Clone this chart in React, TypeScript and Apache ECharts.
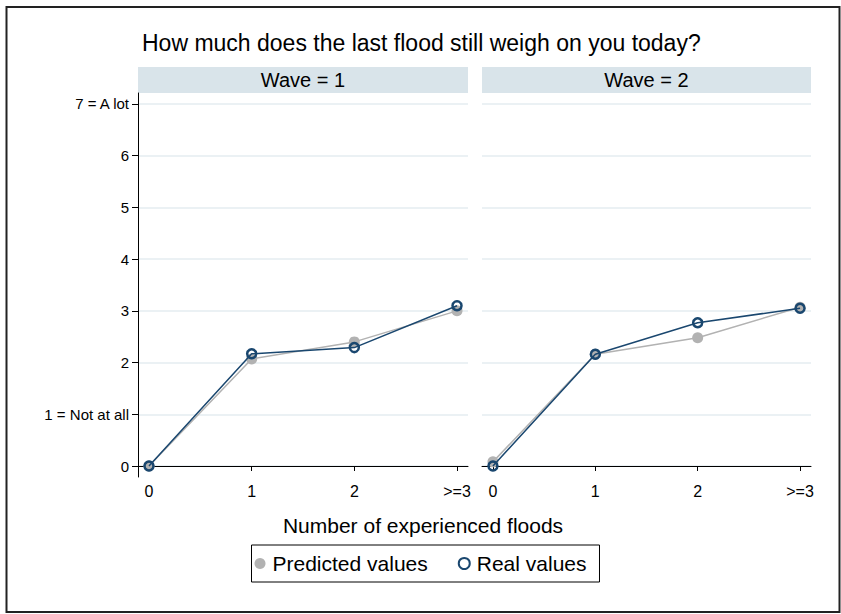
import React, { useEffect, useRef } from "react";
import * as echarts from "echarts";

const categories = ["0", "1", "2", ">=3"];
const xValues = [0, 1, 2, 3];
const wave1Predicted = [0.0, 2.07, 2.4, 3.0];
const wave1Real = [0.0, 2.17, 2.29, 3.1];
const wave2Predicted = [0.08, 2.16, 2.48, 3.07];
const wave2Real = [0.0, 2.16, 2.77, 3.05];
const yTicks = [0, 1, 2, 3, 4, 5, 6, 7];
const yTickLabels: Record<number, string> = { 0: "0", 1: "1 = Not at all", 2: "2", 3: "3", 4: "4", 5: "5", 6: "6", 7: "7 = A lot" };
const panelTitles = ["Wave = 1", "Wave = 2"];

const FONT = "'Liberation Sans', Arial, Helvetica, sans-serif";
const NAVY = "#1a476f";
const GRAY = "#b2b2b2";
const GRID_LINE = "#e4edf0";

const pairs = (ys: number[]) => xValues.map((x, i) => [x, ys[i]]);

export default function App() {
  const ref = useRef<HTMLDivElement>(null);
  useEffect(() => {
    if (!ref.current) return;
    const chart = echarts.init(ref.current, null, { renderer: "svg" });
    const grids = [
      { left: 138, top: 93, width: 330, height: 384 },
      { left: 482, top: 93, width: 329, height: 384 },
    ];
    const xAxis = [0, 1].map((i) => ({
      type: "value",
      gridIndex: i,
      min: -0.107,
      max: 3.107,
      axisLine: { show: true, lineStyle: { color: "#000", width: 1 } },
      axisTick: { show: true, length: 5, customValues: xValues, lineStyle: { color: "#000" } },
      axisLabel: {
        show: true,
        customValues: xValues,
        formatter: (v: number) => categories[Math.round(v)],
        color: "#000",
        fontSize: 16,
        fontFamily: FONT,
        margin: 6,
      },
      splitLine: { show: false },
    }));
    const yAxis = [0, 1].map((i) => ({
      type: "value",
      gridIndex: i,
      min: -0.2127,
      max: 7.2127,
      axisLine: { show: i === 0, onZero: false, lineStyle: { color: "#000", width: 1 } },
      axisTick: { show: i === 0, length: 6, customValues: yTicks, lineStyle: { color: "#000" } },
      axisLabel: {
        show: i === 0,
        customValues: yTicks,
        formatter: (v: number) => yTickLabels[Math.round(v)] ?? "",
        color: "#000",
        fontSize: 15,
        fontFamily: FONT,
        margin: 9,
      },
      splitLine: { show: true, lineStyle: { color: GRID_LINE, width: 1.5 } },
    }));
    const mkPred = (i: number, ys: number[]) => ({
      name: "Predicted values",
      type: "line",
      xAxisIndex: i,
      yAxisIndex: i,
      data: pairs(ys),
      symbol: "circle",
      symbolSize: 11,
      itemStyle: { color: GRAY },
      lineStyle: { color: GRAY, width: 1.5 },
      z: 2,
    });
    const mkReal = (i: number, ys: number[]) => ({
      name: "Real values",
      type: "line",
      xAxisIndex: i,
      yAxisIndex: i,
      data: pairs(ys),
      symbol: "circle",
      symbolSize: 9,
      itemStyle: { color: "rgba(255,255,255,0)", borderColor: NAVY, borderWidth: 2.5 },
      lineStyle: { color: NAVY, width: 1.5 },
      z: 3,
    });
    const strips: any[] = grids.map((g, i) => ({
      type: "group",
      children: [
        { type: "rect", shape: { x: g.left, y: 67, width: g.width, height: 26 }, style: { fill: "#d9e4ea" } },
        {
          type: "text",
          x: g.left + g.width / 2,
          y: 80,
          style: { text: panelTitles[i], fill: "#000", font: `20px ${FONT}`, textAlign: "center", textVerticalAlign: "middle" },
        },
      ],
    }));
    chart.setOption({
      animation: false,
      backgroundColor: "#fff",
      title: {
        text: "How much does the last flood still weigh on you today?",
        left: 137,
        top: 26,
        textStyle: { fontSize: 23, fontWeight: "normal", color: "#000", fontFamily: FONT },
      },
      legend: {
        left: "center",
        top: 545,
        data: [
          { name: "Predicted values", icon: "circle", itemStyle: { color: GRAY } },
          { name: "Real values", icon: "circle", itemStyle: { color: "#fff", borderColor: NAVY, borderWidth: 2 } },
        ],
        itemWidth: 11,
        itemHeight: 11,
        itemGap: 30,
        borderColor: "#000",
        borderWidth: 1,
        borderRadius: 0,
        padding: [8, 13, 8, 3],
        textStyle: { fontSize: 21, color: "#000", fontFamily: FONT, padding: [0, 0, 0, 2] },
      },
      grid: grids,
      xAxis,
      yAxis,
      series: [mkPred(0, wave1Predicted), mkReal(0, wave1Real), mkPred(1, wave2Predicted), mkReal(1, wave2Real)],
      graphic: [
        {
          type: "rect",
          shape: { x: 6.5, y: 7, width: 833, height: 605 },
          style: { fill: "none", stroke: "#222", lineWidth: 2 },
          silent: true,
        },
        ...strips,
        {
          type: "text",
          x: 423,
          y: 525,
          style: { text: "Number of experienced floods", fill: "#000", font: `21px ${FONT}`, textAlign: "center", textVerticalAlign: "middle" },
        },
      ],
    });
    return () => chart.dispose();
  }, []);
  return <div ref={ref} style={{ position: "absolute", left: 0, top: 0, width: 841, height: 614 }} />;
}
